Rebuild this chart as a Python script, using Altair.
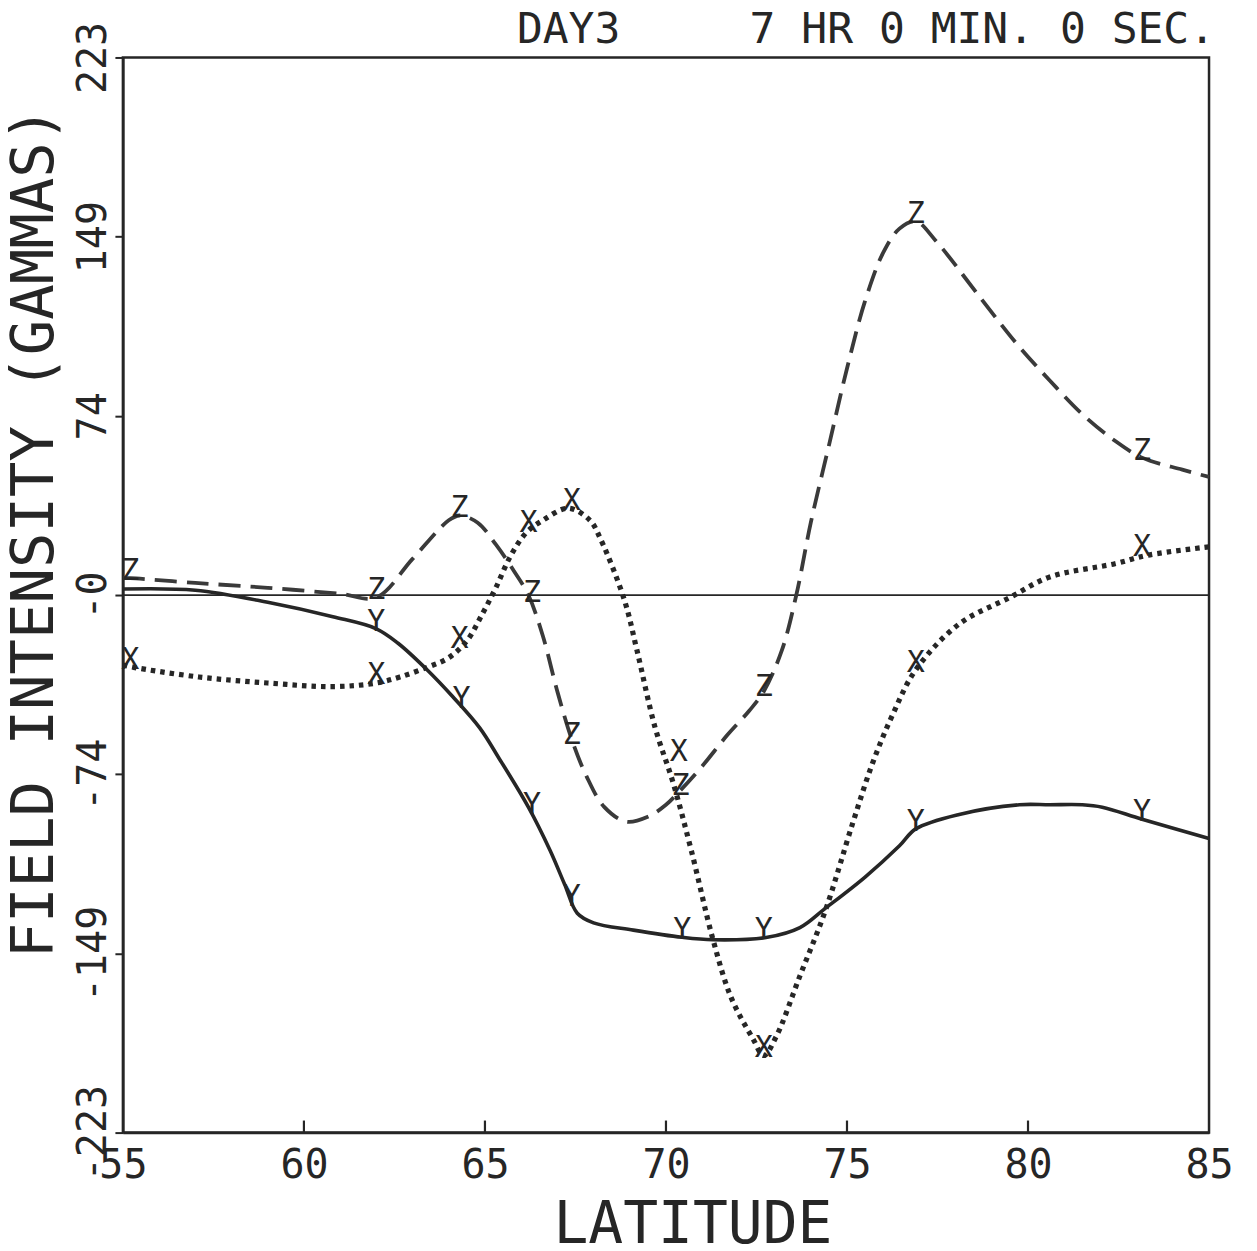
import altair as alt
import pandas as pd

# ---------------- data ----------------
X_LAT = [55.0, 55.3, 57.1, 59.0, 60.8, 62.0, 62.65, 63.4, 64.0, 64.5, 64.94, 65.3, 65.7, 66.15,
         66.6, 67.3, 67.9, 68.2, 68.85, 69.2, 69.7, 70.2, 70.7, 71.3, 71.8, 72.4, 72.7, 73.05,
         73.7, 74.4, 75.15, 75.7, 76.25, 76.9, 78.1, 79.5, 80.6, 82.4, 83.3, 85.0]
X_VAL = [-29, -30, -34, -36.5, -38, -36.5, -34, -30, -26, -19, -7.5, 3, 16, 26,
         31, 36, 31, 23, -2, -23, -55, -78, -106, -143, -167, -184, -191, -183,
         -158, -131, -95, -70, -50, -31, -12, -1, 7.5, 13, 16.5, 20]

Y_LAT = [55.0, 57.0, 59.0, 60.8, 62.0, 62.6, 63.4, 64.1, 64.85, 65.4, 66.2, 66.8, 67.2, 67.55,
         68.0, 69.1, 70.45, 71.3, 72.8, 73.7, 74.4, 75.5, 76.45, 76.9, 78.1, 79.76, 80.6, 81.5,
         82.05, 83.15, 85.0]
Y_VAL = [2.5, 2, -3, -9, -14, -20, -31, -42, -55, -68, -88, -106, -120, -132,
         -136, -139, -142, -143, -142, -138, -130, -117, -104, -97, -91, -87, -87, -87,
         -88, -93, -101]

Z_LAT = [55.0, 55.2, 57.0, 59.0, 61.0, 62.0, 63.0, 64.0, 64.3, 64.8, 65.3, 65.8, 66.2, 66.6,
         67.0, 67.4, 67.8, 68.3, 68.9, 69.5, 70.0, 70.4, 71.0, 71.7, 72.3, 72.7, 73.2, 73.6,
         74.0, 74.5, 75.0, 75.5, 76.0, 76.45, 76.9, 77.45, 78.7, 79.7, 80.6, 81.5, 82.4,
         83.15, 84.26, 85.0]
Z_VAL = [7, 7, 5, 3, 0.5, -1, 15, 31, 33, 30, 21, 10, 0, -17,
         -40, -60, -75, -88, -94, -92, -87, -81, -71, -58, -48, -40, -23, 0,
         30, 62, 94, 122, 142, 152, 155, 147, 123, 104, 89, 75, 64,
         57, 52, 49]

# station markers (letter written on each curve)
X_MARK_LAT = [55.2, 62.0, 64.3, 66.2, 67.4, 70.35, 72.7, 76.9, 83.15]
X_MARK_VAL = [-30, -36, -21, 27, 36, -68, -191, -31, 17]
Y_MARK_LAT = [62.0, 64.35, 66.3, 67.4, 70.45, 72.7, 76.9, 83.15]
Y_MARK_VAL = [-14, -46, -90, -128, -142, -142, -97, -93]
Z_MARK_LAT = [55.2, 62.0, 64.3, 66.3, 67.4, 70.4, 72.7, 76.9, 83.15]
Z_MARK_VAL = [7, -1, 33, -2, -61, -82, -41, 155, 57]

X_TICKS = [55, 60, 65, 70, 75, 80, 85]
Y_TICKS = [-223, -148.67, -74.33, 0, 74.33, 148.67, 223]
Y_TICK_LABELS = ["-223", "-149", "-74", "-0", "74", "149", "223"]

TITLE = "DAY3     7 HR 0 MIN. 0 SEC."
X_TITLE = "LATITUDE"
Y_TITLE = "FIELD INTENSITY (GAMMAS)"

FONT = "DejaVu Sans Mono"
INK = "#262626"

# ---------------- frames ----------------
dfx = pd.DataFrame({"lat": X_LAT, "val": X_VAL})
dfy = pd.DataFrame({"lat": Y_LAT, "val": Y_VAL})
dfz = pd.DataFrame({"lat": Z_LAT, "val": Z_VAL})
marks = pd.concat([
    pd.DataFrame({"lat": X_MARK_LAT, "val": X_MARK_VAL, "ch": "X"}),
    pd.DataFrame({"lat": Y_MARK_LAT, "val": Y_MARK_VAL, "ch": "Y"}),
    pd.DataFrame({"lat": Z_MARK_LAT, "val": Z_MARK_VAL, "ch": "Z"}),
])
inner_ticks = pd.DataFrame({"lat": X_TICKS[1:-1]})

label_expr = " : ".join(
    f"abs(datum.value - ({v})) < 0.5 ? '{l}'" for v, l in zip(Y_TICKS, Y_TICK_LABELS)
) + " : ''"

xscale = alt.Scale(domain=[55, 85], nice=False, zero=False)
yscale = alt.Scale(domain=[-223, 223], nice=False, zero=False)

xenc = alt.X("lat:Q", scale=xscale, axis=alt.Axis(
    values=X_TICKS, format="d", title=X_TITLE, grid=False, ticks=False, tickSize=0,
    labelFont=FONT, labelFontSize=40, labelColor=INK, labelPadding=13,
    labelFlush=False, labelOverlap=False,
    titleFont=FONT, titleFontSize=58, titleFontWeight="normal", titleColor=INK,
    titleX=570, titleY=93, titleAlign="center", titleBaseline="middle",
    domainColor=INK, domainWidth=2.5))
yenc = alt.Y("val:Q", scale=yscale, axis=alt.Axis(
    values=Y_TICKS, labelExpr=label_expr, title=Y_TITLE, grid=False,
    tickSize=8, tickWidth=2, tickColor=INK,
    labelAngle=270, labelAlign="center", labelBaseline="alphabetic", labelPadding=9,
    labelFont=FONT, labelFontSize=40, labelColor=INK, labelFlush=False, labelOverlap=False,
    titleFont=FONT, titleFontSize=59, titleFontWeight="normal", titleColor=INK,
    titleAngle=270, titleX=-88, titleY=475, titleAlign="center", titleBaseline="middle",
    domainColor=INK, domainWidth=2.5))

zero = alt.Chart(pd.DataFrame({"val": [0]})).mark_rule(color=INK, strokeWidth=1.8).encode(
    y=alt.Y("val:Q", scale=yscale))

ticks = alt.Chart(inner_ticks).mark_rule(color=INK, strokeWidth=2.2).encode(
    x=alt.X("lat:Q", scale=xscale), y=alt.datum(-223), y2=alt.datum(-218))

line_x = alt.Chart(dfx).mark_line(color=INK, strokeWidth=5.2, strokeDash=[4.5, 5],
                                  interpolate="catmull-rom", strokeCap="butt").encode(
    x=xenc, y=yenc, order="lat:Q")
line_y = alt.Chart(dfy).mark_line(color=INK, strokeWidth=3.6, interpolate="catmull-rom").encode(
    x=alt.X("lat:Q", scale=xscale), y=alt.Y("val:Q", scale=yscale), order="lat:Q")
line_z = alt.Chart(dfz).mark_line(color="#3a3a3a", strokeWidth=3.8, strokeDash=[22, 10],
                                  interpolate="catmull-rom").encode(
    x=alt.X("lat:Q", scale=xscale), y=alt.Y("val:Q", scale=yscale), order="lat:Q")

letters = alt.Chart(marks).mark_text(font=FONT, fontSize=30, color=INK,
                                     baseline="alphabetic", align="center", dy=2).encode(
    x=alt.X("lat:Q", scale=xscale), y=alt.Y("val:Q", scale=yscale), text="ch:N")

chart = alt.layer(line_x, zero, ticks, line_y, line_z, letters).properties(
    width=1087, height=1076,
    background="white",
    title=alt.TitleParams(text=TITLE.replace(" ", "\u00a0"), anchor="end", font=FONT,
                          fontSize=43, fontWeight="normal", color=INK, offset=14,
                          dy=45, dx=-18),
    autosize=alt.AutoSizeParams(type="none"),
    padding={"left": 115, "top": 49, "right": 40, "bottom": 118},
).configure_view(stroke=INK, strokeWidth=2.5)

chart.save("out.html", embed_options={"renderer": "svg", "actions": False})
